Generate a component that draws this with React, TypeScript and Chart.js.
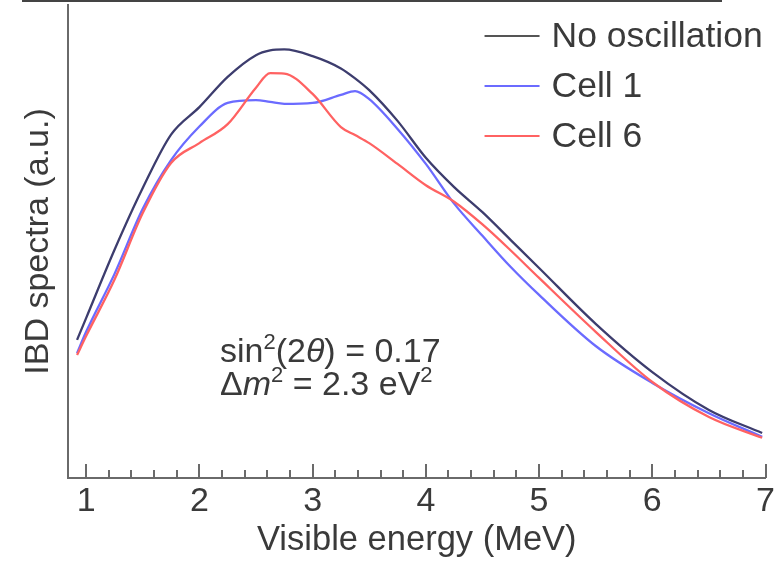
import React, { useEffect, useRef } from 'react';
import { Chart, registerables } from 'chart.js';

Chart.register(...registerables);

// ---- data ----
const energies = [0.92, 1.0, 1.25, 1.5, 1.75, 2.0, 2.25, 2.5, 2.625, 2.75, 3.0, 3.25, 3.375, 3.5, 3.75, 4.0, 4.25, 4.5, 4.75, 5.0, 5.5, 6.0, 6.5, 6.97];
const noOscillation = [29.2, 33.8, 48.2, 61.3, 72.6, 78.4, 84.8, 89.4, 90.4, 90.6, 89.2, 86.6, 84.5, 82.0, 75.5, 67.7, 61.5, 56.2, 50.3, 44.4, 32.6, 22.4, 14.4, 9.5];
const cell1 = [26.4, 30.9, 43.1, 56.9, 67.2, 74.3, 79.3, 79.9, 79.5, 79.1, 79.3, 81.0, 81.8, 80.1, 73.8, 66.4, 58.0, 51.2, 44.6, 38.7, 27.9, 20.1, 13.7, 8.7];
const cell6 = [26.0, 30.0, 41.9, 56.0, 66.6, 70.8, 74.8, 82.5, 85.6, 85.5, 81.2, 74.2, 72.5, 70.8, 66.4, 61.9, 58.4, 53.6, 48.1, 42.3, 30.9, 20.3, 12.9, 8.5];
const seriesLabels = ['No oscillation', 'Cell 1', 'Cell 6'];
const seriesColors = ['#3d3d6e', '#6b6bff', '#ff6262'];
const legendColors = ['#555555', '#6b6bff', '#ff6262'];
const xTickValues = [1, 2, 3, 4, 5, 6, 7];
const minorTicksPerUnit = 5;
const xMin = 0.84;
const xMax = 7.0;
const xTitle = 'Visible energy (MeV)';
const yTitle = 'IBD spectra (a.u.)';

const FONT = '"Liberation Sans", Arial, Helvetica, sans-serif';
const TEXT = '#3a3a3a';
const AXIS = '#6a6a6a';

type Seg = { t: string; style?: 'italic'; sup?: boolean };

const annotation: Seg[][] = [
  [{ t: 'sin' }, { t: '2', sup: true }, { t: '(2' }, { t: 'θ', style: 'italic' }, { t: ') = 0.17' }],
  [{ t: 'Δ' }, { t: 'm', style: 'italic' }, { t: '2', sup: true }, { t: ' = 2.3 eV' }, { t: '2', sup: true }],
];

const decorPlugin = {
  id: 'decor',
  afterDraw(chart: any) {
    const { ctx, chartArea } = chart;
    const xs = chart.scales.x;
    ctx.save();
    // inward ticks on the x axis
    ctx.strokeStyle = AXIS;
    ctx.lineWidth = 2;
    const first = xTickValues[0] * minorTicksPerUnit;
    const last = xTickValues[xTickValues.length - 1] * minorTicksPerUnit;
    for (let k = first; k <= last; k++) {
      const v = k / minorTicksPerUnit;
      const px = Math.round(xs.getPixelForValue(v));
      const major = k % minorTicksPerUnit === 0;
      const len = major ? 14 : 8;
      ctx.beginPath();
      ctx.moveTo(px, chartArea.bottom);
      ctx.lineTo(px, chartArea.bottom - len);
      ctx.stroke();
    }

    // legend
    const lx = chartArea.right - 281;
    chart.data.datasets.forEach((ds: any, i: number) => {
      const y = chartArea.top + 31 + i * 50;
      ctx.strokeStyle = legendColors[i];
      ctx.lineWidth = 2.2;
      ctx.beginPath();
      ctx.moveTo(lx, y);
      ctx.lineTo(lx + 55, y);
      ctx.stroke();
      ctx.fillStyle = TEXT;
      ctx.font = `35.5px ${FONT}`;
      ctx.textBaseline = 'middle';
      ctx.textAlign = 'left';
      ctx.fillText(ds.label, lx + 67, y + 1);
    });

    // annotation
    ctx.textBaseline = 'alphabetic';
    const ax = chartArea.left + 152;
    annotation.forEach((line, li) => {
      let cx = ax;
      const by = chartArea.top + 357 + li * 33;
      line.forEach((seg) => {
        const size = seg.sup ? 22 : 34;
        ctx.font = `${seg.style === 'italic' ? 'italic ' : ''}${size}px ${FONT}`;
        ctx.fillStyle = TEXT;
        ctx.fillText(seg.t, cx, seg.sup ? by - 13 : by);
        cx += ctx.measureText(seg.t).width;
      });
    });
    ctx.restore();
  },
};

export default function App() {
  const ref = useRef<HTMLCanvasElement | null>(null);
  useEffect(() => {
    if (!ref.current) return;
    const mk = (vals: number[]) => energies.map((e, i) => ({ x: e, y: vals[i] }));
    const chart = new Chart(ref.current, {
      type: 'line',
      data: {
        datasets: [
          { label: seriesLabels[0], data: mk(noOscillation), borderColor: seriesColors[0], order: 3 },
          { label: seriesLabels[1], data: mk(cell1), borderColor: seriesColors[1], order: 2 },
          { label: seriesLabels[2], data: mk(cell6), borderColor: seriesColors[2], order: 1 },
        ].map((d) => ({
          ...d,
          borderWidth: 2.3,
          pointRadius: 0,
          fill: false,
          cubicInterpolationMode: 'monotone' as const,
          tension: 0.4,
        })),
      },
      options: {
        animation: false,
        responsive: true,
        maintainAspectRatio: false,
        layout: { padding: { top: 5, right: 7, left: 0, bottom: 0 } },
        plugins: { legend: { display: false }, tooltip: { enabled: false } },
        scales: {
          x: {
            type: 'linear',
            min: xMin,
            max: xMax,
            afterBuildTicks: (s: any) => {
              s.ticks = xTickValues.map((v) => ({ value: v }));
            },
            afterFit: (s: any) => {
              s.height = 86;
            },
            grid: { drawOnChartArea: false, drawTicks: false },
            border: { display: true, color: AXIS, width: 2 },
            ticks: {
              color: TEXT,
              padding: 3,
              maxRotation: 0,
              autoSkip: false,
              font: { family: FONT, size: 34 },
              callback: (v: any) => String(v),
            },
            title: {
              display: true,
              text: xTitle,
              color: TEXT,
              font: { family: FONT, size: 34.5 },
              padding: { top: 0, bottom: 3 },
            },
          },
          y: {
            min: 0,
            max: 100,
            afterFit: (s: any) => {
              s.width = 68;
            },
            grid: { drawOnChartArea: false, drawTicks: false },
            border: { display: true, color: AXIS, width: 2 },
            ticks: { display: false },
            title: {
              display: true,
              text: yTitle,
              color: TEXT,
              font: { family: FONT, size: 34 },
              padding: { top: 18, bottom: 0 },
            },
          },
        },
      },
      plugins: [decorPlugin],
    });
    return () => chart.destroy();
  }, []);

  return (
    <div style={{ position: 'fixed', left: 0, top: 0, width: 778, height: 564, background: '#fff' }}>
      <div style={{ position: 'absolute', left: 22, top: 0, width: 700, height: 2, background: '#444' }} />
      <canvas ref={ref} />
    </div>
  );
}
